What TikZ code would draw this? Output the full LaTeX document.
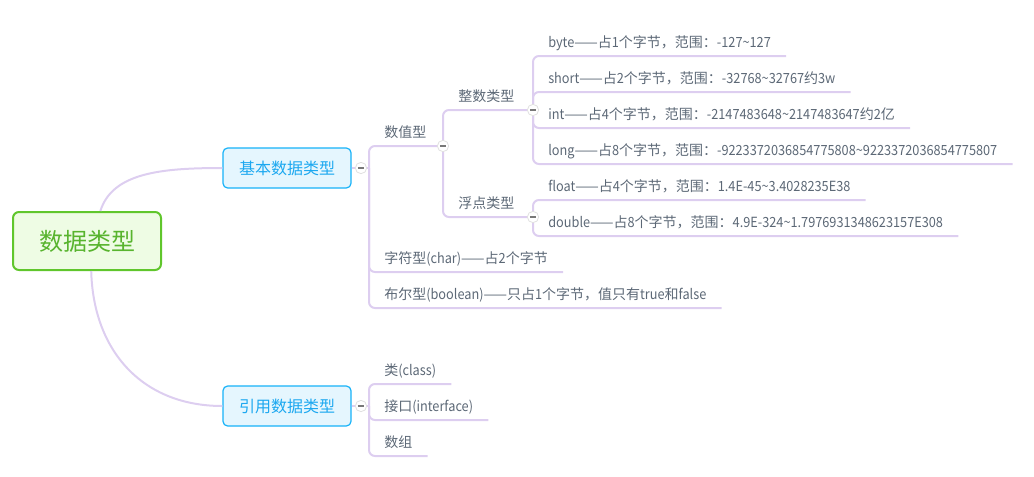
\documentclass[tikz,border=0pt]{standalone}
\usepackage{fontspec}
\setmainfont{Noto Sans CJK SC}
\newfontfamily\latinfont{Noto Sans CJK SC}[FakeStretch=0.91]
\newcommand\latn[1]{{\latinfont #1}}
\usepackage{tikz}
\usetikzlibrary{positioning}
\definecolor{MMLine}{RGB}{221,206,240}
\definecolor{MMGreen}{RGB}{96,198,44}
\definecolor{MMGreenFill}{RGB}{238,252,228}
\definecolor{MMGreenText}{RGB}{88,180,46}
\definecolor{MMBlue}{RGB}{22,178,248}
\definecolor{MMBlueFill}{RGB}{229,246,254}
\definecolor{MMBlueText}{RGB}{28,168,240}
\definecolor{MMText}{RGB}{92,104,118}
\definecolor{MMGray}{RGB}{120,120,120}

\begin{document}
\begin{tikzpicture}[x=0.75pt, y=-0.75pt,
          rootbox/.style={rectangle, rounded corners=4.5pt, line width=1.5pt,
                      draw=MMGreen, fill=MMGreenFill, text=MMGreenText,
                      minimum width=111pt, minimum height=43.5pt,
                      font=\fontsize{18pt}{20pt}\selectfont},
          mainbox/.style={rectangle, rounded corners=3.5pt, line width=0.9pt,
                      draw=MMBlue, fill=MMBlueFill, text=MMBlueText,
                      minimum width=96pt, minimum height=30pt,
                      font=\fontsize{12pt}{14pt}\selectfont},
          leaf/.style={anchor=south west, inner xsep=11.25pt, inner ysep=4pt,
                      text height=8pt, text depth=2pt, text=MMText,
                      font=\fontsize{10.5pt}{12pt}\selectfont},
          fold/.style={circle, minimum size=8.5pt, inner sep=0pt, fill=white,
                      draw=black!12, line width=0.6pt,
                      path picture={\draw[MMGray, line width=1.3pt]
                        ([xshift=-2.4pt]path picture bounding box.center) --
                        ([xshift=2.4pt]path picture bounding box.center);}},
          branch/.style={draw=MMLine, line width=1.5pt, rounded corners=4.5pt}
        ]
        \useasboundingbox (0,0) rectangle (1034,476);

        % Root and main topics
        \node[rootbox] (root) at (87,241) {数据类型};
        \node[mainbox] (jb) at (287,168) {基本数据类型};
        \node[mainbox] (yy) at (287,406) {引用数据类型};

        \draw[branch] (root.66) .. controls +(12,-38) and +(-62,0) .. (jb.west);
        \draw[branch] (root.278) .. controls +(2,80) and +(-80,0) .. (yy.west);

        % Fold buttons
        \node[fold] (cj) at (361,168) {};
        \node[fold] (cn) at (443,146) {};
        \node[fold] (cz) at (533,110) {};
        \node[fold] (cf) at (533,217) {};
        \node[fold] (cy) at (361,406) {};
        \coordinate (bj) at (369,168);
        \coordinate (by) at (369,406);

        % Basic types
        \node[leaf] (sz) at (369,146) {数值型};
        \node[leaf] (zs) at (443,110) {整数类型};
        \node[leaf] (fd) at (443,217) {浮点类型};
        \node[leaf] (byte) at (533,56)
              {\latn{byte}——占\latn{1}个字节，范围：\latn{-127\textasciitilde127}};
        \node[leaf] (short) at (533,92)
              {\latn{short}——占\latn{2}个字节，范围：\latn{-32768\textasciitilde32767}约\latn{3w}};
        \node[leaf] (int) at (533,128)
              {\latn{int}——占\latn{4}个字节，范围：\latn{-2147483648\textasciitilde2147483647}约\latn{2}亿};
        \node[leaf] (long) at (533,164)
              {\latn{long}——占\latn{8}个字节，范围：\latn{-9223372036854775808\textasciitilde9223372036854775807}};
        \node[leaf] (flt) at (533,200)
              {\latn{float}——占\latn{4}个字节，范围：\latn{1.4E-45\textasciitilde3.4028235E38}};
        \node[leaf] (dbl) at (533,236)
              {\latn{double}——占\latn{8}个字节，范围：\latn{4.9E-324\textasciitilde1.7976931348623157E308}};
        \node[leaf] (chr) at (369,272) {字符型\latn{(char)}——占\latn{2}个字节};
        \node[leaf] (bool) at (369,308)
              {布尔型\latn{(boolean)}——只占\latn{1}个字节，值只有\latn{true}和\latn{false}};

        % Reference types
        \node[leaf] (cls) at (369,384) {类\latn{(class)}};
        \node[leaf] (ifc) at (369,420) {接口\latn{(interface)}};
        \node[leaf] (arr) at (369,456) {数组};

        % Brackets
        \draw[branch] (jb.east) -- (cj.west);
        \draw[branch] (cj.east) -- (bj);
        \draw[branch] (bj) |- (cn.west);
        \foreach \n in {chr,bool}
          \draw[branch] (bj) |- (\n.south east);
        \draw[branch] (cn.north) |- (cz.west);
        \draw[branch] (cn.south) |- (cf.west);
        \foreach \n in {byte,short}
          \draw[branch] (cz.north) |- (\n.south east);
        \foreach \n in {int,long}
          \draw[branch] (cz.south) |- (\n.south east);
        \draw[branch] (cf.north) |- (flt.south east);
        \draw[branch] (cf.south) |- (dbl.south east);

        \draw[branch] (yy.east) -- (cy.west);
        \draw[branch] (cy.east) -- (by);
        \foreach \n in {cls,ifc,arr}
          \draw[branch] (by) |- (\n.south east);
      \end{tikzpicture}
\end{document}
